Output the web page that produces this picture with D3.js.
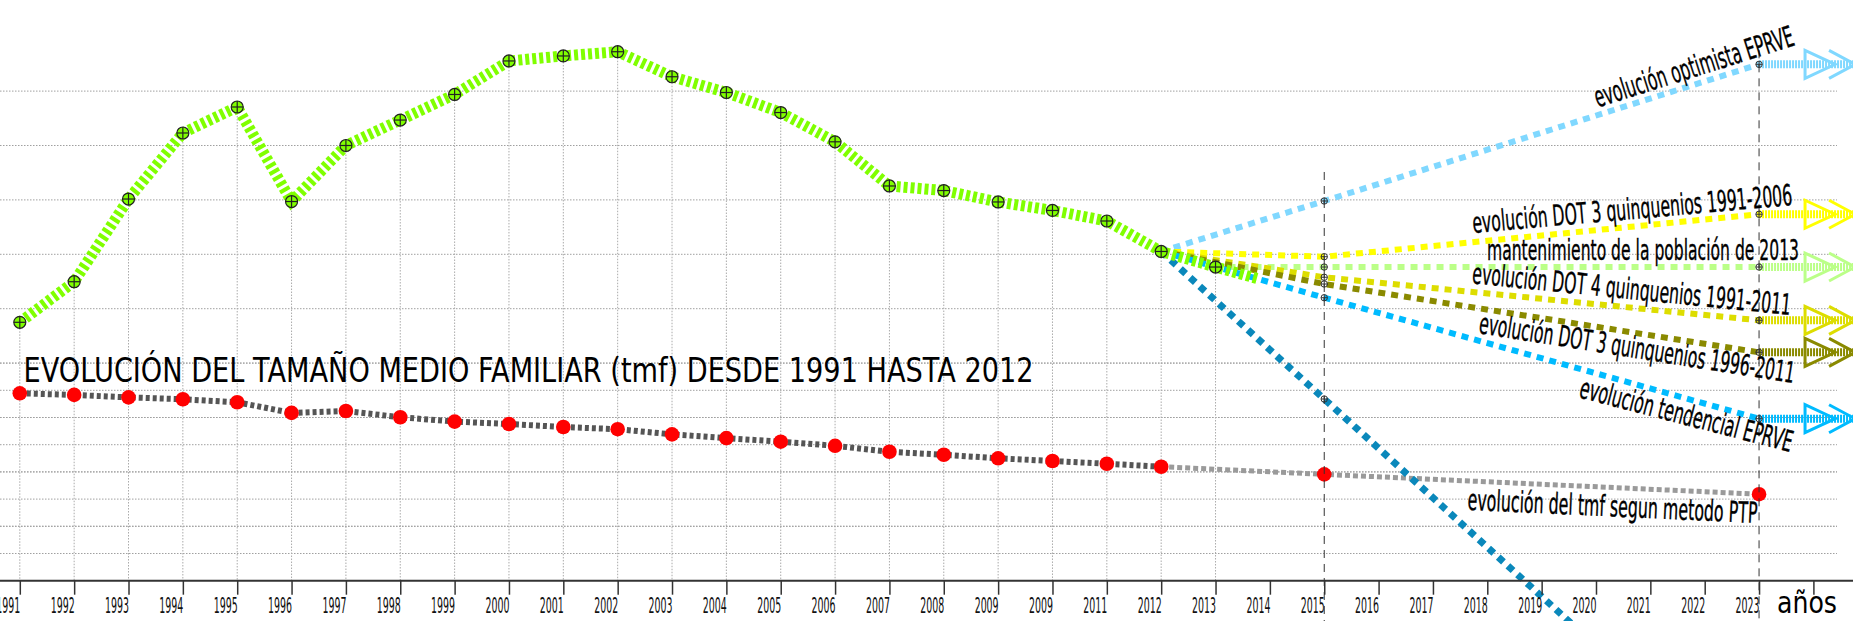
<!DOCTYPE html>
<html>
<head>
<meta charset="utf-8">
<script src="https://cdn.jsdelivr.net/npm/d3@7"></script>
<style>
body { margin: 0; background: #fff; }
svg { display: block; font-family: "DejaVu Sans", sans-serif; }
</style>
</head>
<body>
<svg id="chart" width="1853" height="621"></svg>
<script>
// eje de años (el original repite "2009" en 2010)
var tickYears = d3.range(1991, 2025)
var tickLabels = ["1991","1992","1993","1994","1995","1996","1997","1998","1999","2000",
                  "2001","2002","2003","2004","2005","2006","2007","2008","2009","2009",
                  "2011","2012","2013","2014","2015","2016","2017","2018","2019","2020",
                  "2021","2022","2023",""]

// poblacion historica (escala superior)
var popYears = d3.range(1991, 2014)
var popValues = [6375, 6748, 7508, 8115, 8354, 7485, 8000, 8234, 8469, 8777, 8823, 8862,
                 8632, 8487, 8303, 8034, 7628, 7586, 7481, 7403, 7306, 7026, 6883]
var popTail = [2013.8, 6773]

// tamaño medio familiar (escala inferior)
var tmfYears = d3.range(1991, 2013)
var tmfValues = [3.189, 3.183, 3.174, 3.167, 3.156, 3.117, 3.124, 3.101, 3.085, 3.076, 3.065,
                 3.057, 3.038, 3.024, 3.011, 2.996, 2.974, 2.963, 2.950, 2.940, 2.930, 2.919]
var tmfProjYears = [2012, 2015, 2023]
var tmfProjValues = [2.919, 2.891, 2.818]
var tmfLabel = "evolución del tmf segun metodo PTP"

// proyecciones de poblacion
var projNames = ["evolución optimista EPRVE",
                 "evolución DOT 3 quinquenios 1991-2006",
                 "mantenimiento de la población de 2013",
                 "evolución DOT 4 quinquenios 1991-2011",
                 "evolución DOT 3 quinquenios 1996-2011",
                 "evolución tendencial EPRVE",
                 ""]
var projYears = [[2012, 2015, 2023], [2012, 2015, 2023], [2013, 2015, 2023], [2012, 2015, 2023],
                 [2012, 2015, 2023], [2012, 2015, 2023], [2012, 2015, 2023]]
var projValues = [[7026, 7490, 8746],
                  [7026, 6978, 7368],
                  [6883, 6883, 6883],
                  [7026, 6789, 6393],
                  [7026, 6727, 6099],
                  [7026, 6601, 5489],
                  [7026, 5670, 2040]]

var title = "EVOLUCIÓN DEL TAMAÑO MEDIO FAMILIAR (tmf) DESDE 1991 HASTA 2012"

// estilos / posiciones de textos
var projColors = ["#80d8ff", "#ffff00", "#bbff88", "#dddd00", "#8a8a00", "#00bbff", "#0a88bb"]
var labelPos = [
    {x: 1796, y: 45, a: -17.5, len: 208},
    {x: 1793, y: 205, a: -5, len: 321},
    {x: 1799, y: 260, a: 0, len: 312},
    {x: 1790, y: 315, a: 5.7, len: 320},
    {x: 1793, y: 383, a: 9, len: 319},
    {x: 1790, y: 452, a: 14.5, len: 219}
]

var dimensions = {width: 1853, height: 621, axisY: 580.7}

var svg = d3.select("#chart")

var xScale = d3.scaleLinear()
               .domain([1991, 2024])
               .range([19.8, 1813.4])

var yPop = d3.scaleLinear()
             .domain([4000, 8500])
             .range([dimensions.axisY, 91.1])

var yTmf = d3.scaleLinear()
             .domain([2.5, 3.3])
             .range([dimensions.axisY, 363.1])

// rejilla horizontal
var gridVals = yPop.ticks(9).filter(d => d > 4000).map(d => yPop(d))
    .concat(yTmf.ticks(8).filter(d => d > 2.5).map(d => yTmf(d)))
svg.append("g")
   .selectAll("line")
   .data(gridVals)
   .enter()
   .append("line")
   .attr("x1", 0)
   .attr("x2", 1837)
   .attr("y1", d => d)
   .attr("y2", d => d)
   .attr("stroke", "#a0a0a0")
   .attr("stroke-width", 1)
   .attr("stroke-dasharray", "1.5,1.5")

// lineas verticales desde cada punto al eje
svg.append("g")
   .selectAll("line")
   .data(popYears)
   .enter()
   .append("line")
   .attr("x1", d => xScale(d))
   .attr("x2", d => xScale(d))
   .attr("y1", (d, i) => yPop(popValues[i]))
   .attr("y2", dimensions.axisY)
   .attr("stroke", "#aaa")
   .attr("stroke-width", 1)
   .attr("stroke-dasharray", "1.5,1.5")

// tmf
var lineTmf = d3.line().x(d => xScale(d[0])).y(d => yTmf(d[1]))
svg.append("path")
   .datum(tmfProjYears.map((d, i) => [d, tmfProjValues[i]]))
   .attr("d", lineTmf)
   .attr("fill", "none")
   .attr("stroke", "#9a9a9a")
   .attr("stroke-width", 5)
   .attr("stroke-dasharray", "5,3")
svg.append("path")
   .datum(tmfYears.map((d, i) => [d, tmfValues[i]]))
   .attr("d", lineTmf)
   .attr("fill", "none")
   .attr("stroke", "#555")
   .attr("stroke-width", 6)
   .attr("stroke-dasharray", "4,3")

// proyecciones
var linePop = d3.line().x(d => xScale(d[0])).y(d => yPop(d[1]))
var projData = projValues.map((vals, k) => projYears[k].map((yr, i) => [yr, vals[i]]))

svg.append("g")
   .selectAll("path")
   .data(projData)
   .enter()
   .append("path")
   .attr("d", linePop)
   .attr("fill", "none")
   .attr("stroke", (d, i) => projColors[i])
   .attr("stroke-width", (d, i) => i == 6 ? 7 : 6)
   .attr("stroke-dasharray", "7,6")

// flechas al final (2023)
var arrowData = projData.filter((d, i) => projNames[i] != "")
var arrows = svg.append("g")
                .selectAll("g")
                .data(arrowData)
                .enter()
                .append("g")
arrows.append("line")
      .attr("x1", d => xScale(2023))
      .attr("x2", dimensions.width)
      .attr("y1", d => yPop(d[2][1]))
      .attr("y2", d => yPop(d[2][1]))
      .attr("stroke", (d, i) => projColors[i])
      .attr("stroke-width", 8)
      .attr("stroke-dasharray", "2,1")
arrows.append("path")
      .attr("d", d => {
          var x0 = xScale(2023) + 46, y = yPop(d[2][1])
          return "M" + x0 + "," + (y - 14) + "L" + (x0 + 30) + "," + y + "L" + x0 + "," + (y + 14) + "Z" +
                 "M" + (x0 + 24) + "," + (y - 14) + "L" + (x0 + 50) + "," + y + "L" + (x0 + 24) + "," + (y + 14)
      })
      .attr("fill", "none")
      .attr("stroke", (d, i) => projColors[i])
      .attr("stroke-width", 3)

// serie historica de poblacion
svg.append("path")
   .datum(popYears.map((d, i) => [d, popValues[i]]).concat([popTail]))
   .attr("d", linePop)
   .attr("fill", "none")
   .attr("stroke", "#80ff00")
   .attr("stroke-width", 11)
   .attr("stroke-dasharray", "4,3")

function crossMarker(g, r) {
    g.append("circle").attr("r", r)
    g.append("line").attr("x1", -r).attr("x2", r)
    g.append("line").attr("y1", -r).attr("y2", r)
}

var popMarks = svg.append("g")
                  .selectAll("g")
                  .data(popYears)
                  .enter()
                  .append("g")
                  .attr("transform", (d, i) => `translate(${xScale(d)},${yPop(popValues[i])})`)
                  .attr("stroke", "#222")
                  .attr("stroke-width", 1.2)
                  .attr("fill", "#80ff00")
popMarks.call(crossMarker, 6)

// marcadores de proyeccion (2015 y 2023)
var projPts = []
projData.forEach(d => { projPts.push(d[1]); projPts.push(d[2]) })
var projMarks = svg.append("g")
                   .selectAll("g")
                   .data(projPts.filter(d => yPop(d[1]) < dimensions.height))
                   .enter()
                   .append("g")
                   .attr("transform", d => `translate(${xScale(d[0])},${yPop(d[1])})`)
                   .attr("stroke", "#333")
                   .attr("stroke-width", 1)
                   .attr("fill", "none")
projMarks.call(crossMarker, 3.2)

// puntos rojos tmf
svg.append("g")
   .selectAll("circle")
   .data(tmfYears.map((d, i) => [d, tmfValues[i]]).concat(tmfProjYears.slice(1).map((d, i) => [d, tmfProjValues[i + 1]])))
   .enter()
   .append("circle")
   .attr("cx", d => xScale(d[0]))
   .attr("cy", d => yTmf(d[1]))
   .attr("r", 7.3)
   .attr("fill", "#ff0000")

// lineas de referencia 2015 y 2023
var refYears = [2015, 2023]
svg.append("g")
   .selectAll("line")
   .data(refYears)
   .enter()
   .append("line")
   .attr("x1", d => xScale(d))
   .attr("x2", d => xScale(d))
   .attr("y1", (d, i) => {
       var k = i == 0 ? 1 : 2
       return yPop(d3.max(projValues, v => v[k])) - (i == 0 ? 29 : 14)
   })
   .attr("y2", dimensions.height)
   .attr("stroke", "#333")
   .attr("stroke-width", 1)
   .attr("stroke-dasharray", "8,6")

// etiquetas
svg.append("g")
   .selectAll("text")
   .data(labelPos)
   .enter()
   .append("text")
   .attr("transform", d => `translate(${d.x},${d.y}) rotate(${d.a})`)
   .attr("text-anchor", "end")
   .attr("textLength", d => d.len)
   .attr("lengthAdjust", "spacingAndGlyphs")
   .style("font-size", "29px")
   .attr("fill", "#000")
   .attr("stroke", "#000")
   .attr("stroke-width", 0.4)
   .text((d, i) => projNames[i])

svg.append("text")
   .attr("transform", "translate(1757,523) rotate(2.6)")
   .attr("text-anchor", "end")
   .attr("textLength", 290)
   .attr("lengthAdjust", "spacingAndGlyphs")
   .style("font-size", "29px")
   .attr("stroke", "#000")
   .attr("stroke-width", 0.4)
   .text(tmfLabel)

svg.append("text")
   .attr("x", 23.6)
   .attr("y", 381.7)
   .attr("textLength", 1010)
   .attr("lengthAdjust", "spacingAndGlyphs")
   .style("font-size", "33px")
   .text(title)

// eje x
svg.append("line")
   .attr("x1", 0)
   .attr("x2", dimensions.width)
   .attr("y1", dimensions.axisY)
   .attr("y2", dimensions.axisY)
   .attr("stroke", "#333")
   .attr("stroke-width", 2)

var xAxisGen = d3.axisBottom(xScale)
                 .tickValues(tickYears)
                 .tickSize(14)
                 .tickFormat((d, i) => tickLabels[i])
var xAxis = svg.append("g")
               .attr("transform", `translate(0,${dimensions.axisY})`)
               .call(xAxisGen)
xAxis.select(".domain").remove()
xAxis.selectAll(".tick line").attr("stroke", "#333").attr("stroke-width", 1.5)
xAxis.selectAll(".tick text")
     .attr("text-anchor", "end")
     .attr("y", 32)
     .attr("dy", 0)
     .attr("textLength", d => d == 2024 ? null : 24)
     .attr("lengthAdjust", "spacingAndGlyphs")
     .attr("fill", "#111")
     .style("font-size", "22px")
     .style("font-family", "DejaVu Sans, sans-serif")

svg.append("text")
   .attr("x", 1777)
   .attr("y", 613)
   .attr("textLength", 60)
   .attr("lengthAdjust", "spacingAndGlyphs")
   .style("font-size", "31px")
   .text("años")
</script>
</body>
</html>
